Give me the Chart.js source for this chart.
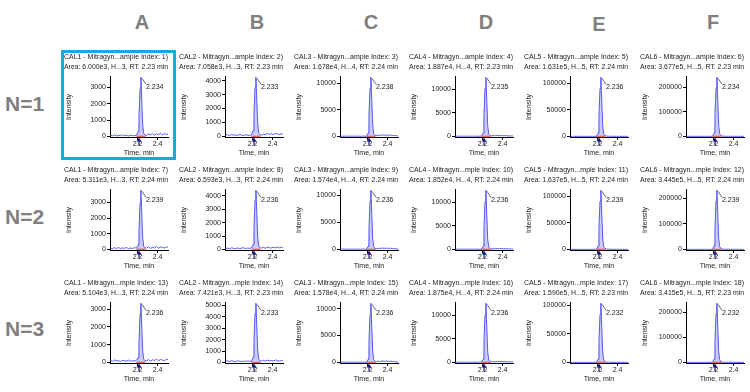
<!DOCTYPE html>
<html><head><meta charset="utf-8">
<script src="https://cdn.jsdelivr.net/npm/chart.js@4.4.1/dist/chart.umd.min.js"></script>
<style>
html,body{margin:0;padding:0;background:#fff;width:750px;height:392px;overflow:hidden;position:relative;}
.col{position:absolute;top:11px;font-weight:bold;font-size:20px;font-family:'Liberation Sans Narrow','Liberation Sans',sans-serif;color:#7f7f7f;transform:translateX(-50%);}
.row{position:absolute;left:5px;font-weight:bold;font-size:21px;font-family:'Liberation Sans Narrow','Liberation Sans',sans-serif;color:#7f7f7f;transform:translateY(-50%);}
#hl{position:absolute;left:61px;top:50px;width:115px;height:110px;border:3px solid #1ea5d9;box-sizing:border-box;}
canvas{position:absolute;}
</style></head><body>
<div id="hl"></div>
<script>
// ---- data ----
const colLetters = ['A','B','C','D','E','F'];
const rowLabels = ['N=1','N=2','N=3'];
const times = [1.93,1.95,1.97,1.99,2.01,2.03,2.05,2.07,2.09,2.11,2.13,2.15,2.17,2.19,2.205,2.215,2.225,2.234,2.243,2.252,2.262,2.275,2.29,2.31,2.33,2.35,2.37,2.39,2.41,2.43,2.45,2.47,2.49,2.51];
const titles = [
 'CAL1 - Mitragyn...ample Index: 1)','CAL2 - Mitragyn...ample Index: 2)','CAL3 - Mitragyn...ample Index: 3)','CAL4 - Mitragyn...ample Index: 4)','CAL5 - Mitragyn...ample Index: 5)','CAL6 - Mitragyn...ample Index: 6)',
 'CAL1 - Mitragyn...ample Index: 7)','CAL2 - Mitragyn...ample Index: 8)','CAL3 - Mitragyn...ample Index: 9)','CAL4 - Mitragyn...mple Index: 10)','CAL5 - Mitragyn...mple Index: 11)','CAL6 - Mitragyn...mple Index: 12)',
 'CAL1 - Mitragyn...mple Index: 13)','CAL2 - Mitragyn...mple Index: 14)','CAL3 - Mitragyn...mple Index: 15)','CAL4 - Mitragyn...mple Index: 16)','CAL5 - Mitragyn...mple Index: 17)','CAL6 - Mitragyn...mple Index: 18)'
];
const areas = [
 'Area: 6.000e3, H...3, RT: 2.23 min','Area: 7.058e3, H...3, RT: 2.23 min','Area: 1.678e4, H...4, RT: 2.24 min','Area: 1.887e4, H...4, RT: 2.23 min','Area: 1.631e5, H...5, RT: 2.24 min','Area: 3.677e5, H...5, RT: 2.23 min',
 'Area: 5.311e3, H...3, RT: 2.24 min','Area: 6.593e3, H...3, RT: 2.24 min','Area: 1.574e4, H...4, RT: 2.24 min','Area: 1.852e4, H...4, RT: 2.24 min','Area: 1.637e5, H...5, RT: 2.24 min','Area: 3.445e5, H...5, RT: 2.24 min',
 'Area: 5.104e3, H...3, RT: 2.24 min','Area: 7.421e3, H...3, RT: 2.23 min','Area: 1.578e4, H...4, RT: 2.24 min','Area: 1.875e4, H...4, RT: 2.24 min','Area: 1.590e5, H...5, RT: 2.23 min','Area: 3.415e5, H...5, RT: 2.23 min'
];
const rtLabels = ['2.234','2.233','2.238','2.235','2.236','2.234','2.239','2.236','2.236','2.236','2.239','2.239','2.236','2.233','2.236','2.236','2.232','2.232'];
const ticksA = [0,1000,2000,3000];
const ticksB = [0,1000,2000,3000,4000];
const ticksB3 = [0,1000,2000,3000,4000,5000];
const ticksCD = [0,5000,10000];
const ticksE = [0,50000,100000];
const ticksF = [0,100000,200000];
const yTicks = [ticksA,ticksB,ticksCD,ticksCD,ticksE,ticksF, ticksA,ticksB,ticksCD,ticksCD,ticksE,ticksF, ticksA,ticksB3,ticksCD,ticksCD,ticksE,ticksF];
const xTicks = [2.2,2.4];
const intStart = 2.19, intEnd = 2.28, arrowT = 2.215;

const a1 = [60,40,90,30,70,50,100,40,60,30,80,50,40,70, 300,1300,2900,3620,2100,700,180,90, 60,140,90,180,70,160,110,200,90,170,120,150];
const b1 = [80,120,60,140,90,110,70,130,100,60,120,90,70,110, 400,1600,3500,4250,2600,900,250,120, 90,160,120,210,150,190,130,230,170,140,200,160];
const c1 = [50,30,60,40,50,30,60,40,50,40,30,60,40,50, 600,4200,9000,11100,6500,2100,500,200, 150,250,180,300,220,280,200,260,180,150,120,100];
const d1 = [40,60,30,50,40,60,30,50,40,60,30,50,40,60, 700,4800,10200,12600,7400,2300,550,200, 120,180,140,200,160,180,150,170,130,110,90,80];
const e1 = [100,150,80,120,100,140,90,130,110,100,120,90,110,130, 6000,42000,90000,111000,65000,21000,5000,1500, 600,400,300,250,200,180,160,150,140,130,120,110];
const f1 = [200,300,200,250,200,300,250,200,300,250,200,300,250,200, 13000,90000,195000,240000,140000,45000,11000,3000, 1200,800,600,500,450,400,380,350,330,300,300,280];
const a2 = [90,50,110,60,130,40,100,70,120,50,90,60,110,80, 280,1200,2950,3790,2200,750,200,100, 80,170,60,140,100,190,70,160,120,90,170,110];
const b2 = [60,100,40,120,80,50,110,70,90,130,60,100,80,120, 350,1700,3700,4430,2700,950,260,130, 100,150,90,170,120,110,160,130,180,120,150,100];
const c2 = [40,60,50,30,60,40,50,60,30,50,40,60,50,40, 550,4000,8900,10900,6400,2000,480,180, 140,220,170,260,200,240,180,220,160,140,110,90];
const d2 = [50,30,60,40,50,30,60,40,50,30,60,40,50,30, 650,4700,10100,12500,7300,2200,520,190, 110,170,130,190,150,170,140,160,120,100,90,70];
const e2 = [120,100,140,90,110,130,100,120,90,110,130,100,120,90, 6100,43000,91000,112000,66000,21500,5100,1500, 600,420,320,260,210,190,170,150,140,130,120,110];
const f2 = [250,200,300,250,200,300,250,200,250,300,200,250,300,200, 12500,87000,188000,231000,135000,43000,10500,2900, 1100,800,600,500,450,400,380,350,330,300,290,280];
const a3 = [110,60,140,80,100,50,120,90,70,130,60,100,80,120, 260,1150,2700,3330,1950,650,180,110, 90,160,70,150,110,190,90,170,130,100,180,140];
const b3 = [90,130,70,150,100,80,140,110,70,120,90,130,100,80, 450,2000,4300,5200,3100,1100,300,150, 110,180,120,200,140,170,130,210,160,120,180,140];
const c3 = [60,40,50,30,60,50,40,60,30,50,60,40,50,30, 560,4100,8900,11000,6400,2050,490,190, 140,230,170,270,210,250,190,230,170,140,110,90];
const d3 = [40,60,30,50,40,60,30,50,40,60,30,50,40,60, 640,4700,10000,12500,7300,2250,530,200, 120,180,140,200,160,180,150,170,130,110,90,80];
const e3 = [110,130,90,120,100,140,90,120,110,100,130,90,110,120, 5600,39000,84000,104000,61000,19500,4700,1400, 560,400,300,250,200,180,160,150,140,130,120,110];
const f3 = [250,300,200,250,300,200,250,300,200,250,300,200,250,300, 12700,88000,191000,235000,137000,44000,10700,2950, 1150,800,600,500,450,400,380,350,330,300,290,280];
const series = [a1,b1,c1,d1,e1,f1,a2,b2,c2,d2,e2,f2,a3,b3,c3,d3,e3,f3];

// ---- layout ----
const colX = [64,179,294,409,524,640];
const rowY = [51,164,277];
const letterX = [142,257,371,486,599,713];
const rowLabelY = [104,217,329];
const FONT = "'Liberation Sans', Arial, sans-serif";

colLetters.forEach((t,i)=>{const d=document.createElement('div');d.className='col';d.textContent=t;d.style.left=letterX[i]+'px';if(t==='E')d.style.top='13px';document.body.appendChild(d);});
rowLabels.forEach((t,i)=>{const d=document.createElement('div');d.className='row';d.textContent=t;d.style.top=rowLabelY[i]+'px';document.body.appendChild(d);});

const peakMarks = {
  id:'peakMarks',
  beforeDatasetsDraw(chart){
    const {ctx, scales:{x,y}} = chart;
    const k = chart.options.plugins.peakMarks.k;
    const d = series[k];
    const y0 = y.getPixelForValue(0);
    const idx = times.map((t,i)=>i).filter(i=>times[i]>=intStart && times[i]<=intEnd);
    ctx.save();
    ctx.fillStyle='rgba(130,130,240,0.42)';
    ctx.beginPath();
    ctx.moveTo(x.getPixelForValue(times[idx[0]]), y0);
    idx.forEach(i=>ctx.lineTo(x.getPixelForValue(times[i]), y.getPixelForValue(d[i])));
    ctx.lineTo(x.getPixelForValue(times[idx[idx.length-1]]), y0);
    ctx.closePath(); ctx.fill();
    ctx.restore();
  },
  afterDraw(chart){
    const {ctx, scales:{x,y}} = chart;
    const k = chart.options.plugins.peakMarks.k;
    const d = series[k];
    let m = 0; d.forEach((v,i)=>{ if(v>d[m]) m=i; });
    const px = x.getPixelForValue(times[m]), py = y.getPixelForValue(d[m]);
    const y0 = y.getPixelForValue(0);
    ctx.save();
    ctx.strokeStyle='rgba(235,90,90,0.95)'; ctx.lineWidth=1.5;
    ctx.beginPath(); ctx.moveTo(x.getPixelForValue(intStart), y0); ctx.lineTo(x.getPixelForValue(intEnd), y0); ctx.stroke();
    ctx.strokeStyle='#444'; ctx.lineWidth=0.8;
    ctx.beginPath(); ctx.moveTo(px+1, py+1); ctx.lineTo(px+5, py+7); ctx.stroke();
    ctx.fillStyle='#222'; ctx.font='7px '+FONT; ctx.textBaseline='middle'; ctx.textAlign='left';
    ctx.fillText(rtLabels[k], px+5, py+10);
    const xa = x.getPixelForValue(arrowT);
    ctx.fillStyle='#1c1c78'; ctx.strokeStyle='#1c1c78'; ctx.lineWidth=1.2;
    ctx.beginPath(); ctx.moveTo(xa, y0+1); ctx.lineTo(xa-2.5, y0+5); ctx.lineTo(xa+2.5, y0+5); ctx.closePath(); ctx.fill();
    ctx.beginPath(); ctx.moveTo(xa, y0+4); ctx.lineTo(xa, y0+9); ctx.stroke();
    ctx.restore();
  }
};

for(let r=0;r<3;r++) for(let c=0;c<6;c++){
  const k = r*6+c;
  const d = series[k];
  const cv = document.createElement('canvas');
  cv.width=112; cv.height=106;
  cv.style.left=colX[c]+'px'; cv.style.top=rowY[r]+'px';
  cv.style.width='112px'; cv.style.height='106px';
  document.body.appendChild(cv);
  const peak = Math.max(...d);
  const f7 = {size:7, family:FONT, lineHeight:1.15};
  new Chart(cv, {
    type:'line',
    data:{datasets:[
      {data:d.map((v,i)=>({x:times[i],y:v})), borderColor:'rgb(86,86,250)', borderWidth:1, pointRadius:0, tension:0, fill:false}
    ]},
    options:{
      responsive:false, animation:false, devicePixelRatio:1,
      layout:{padding:{left:0,right:8,top:0,bottom:0}},
      plugins:{
        legend:{display:false}, tooltip:{enabled:false},
        title:{display:true, text:[titles[k], areas[k]], align:'start', color:'#222', font:{size:7, family:FONT, weight:'normal', lineHeight:1.43}, padding:{top:1,bottom:4}},
        peakMarks:{k}
      },
      scales:{
        x:{type:'linear', min:1.925, max:2.505,
           grid:{drawOnChartArea:false, drawTicks:true, tickLength:2, color:'#000', lineWidth:1},
           border:{display:true, color:'#000', width:1},
           afterBuildTicks:a=>{a.ticks = xTicks.map(v=>({value:v}));},
           ticks:{font:f7, color:'#222', padding:0, maxRotation:0, callback:v=>v.toFixed(1)},
           title:{display:true, text:'Time, min', font:f7, color:'#222', padding:{top:1,bottom:0}}},
        y:{min:-peak*0.025, max:peak*1.02,
           grid:{drawOnChartArea:false, drawTicks:true, tickLength:3, color:'#000', lineWidth:1},
           border:{display:true, color:'#000', width:1},
           afterBuildTicks:a=>{a.ticks = yTicks[k].map(v=>({value:v}));},
           afterFit:a=>{a.width=46;},
           ticks:{font:f7, color:'#222', padding:1, callback:v=>String(v)},
           title:{display:true, text:'Intensity', font:f7, color:'#222', padding:{top:1,bottom:0}}}
      }
    },
    plugins:[peakMarks]
  });
}
</script>
</body></html>
